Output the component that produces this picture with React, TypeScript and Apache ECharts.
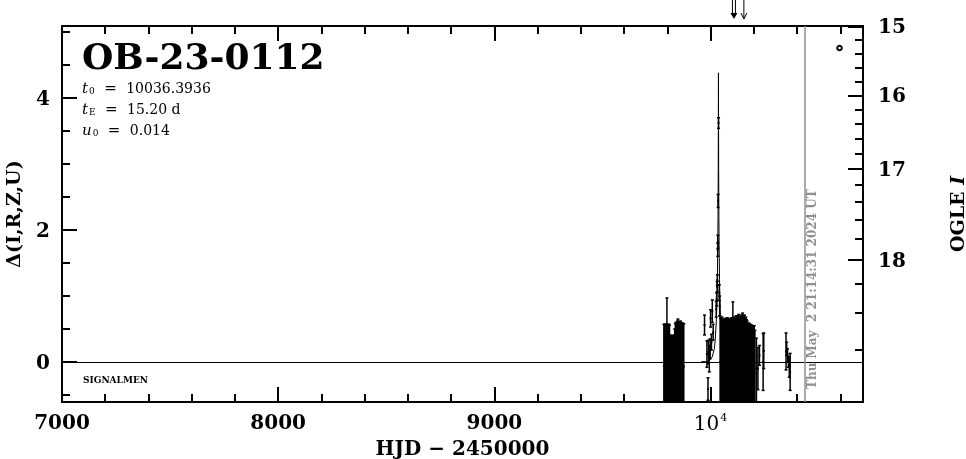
import React, { useEffect, useRef } from 'react';
import * as echarts from 'echarts';

// ---- axis ranges ----
const X_MIN = 7000;
const X_MAX = 10705;
const Y_MIN = -0.606;
const Y_MAX = 5.09;

// ---- tick values ----
const xMajorTicks = [7000, 8000, 9000, 10000];
const xMinorTicks = [7200, 7400, 7600, 7800, 8200, 8400, 8600, 8800, 9200, 9400, 9600, 9800, 10200, 10400, 10600];
const yMajorTicks = [0, 2, 4];
const yMinorTicks = [-0.5, 0.5, 1, 1.5, 2.5, 3, 3.5, 4.5, 5];
const magMajorTicks = [15, 16, 17, 18];
const magMinorTicks = [15.2, 15.4, 15.6, 15.8, 16.2, 16.4, 16.6, 16.8, 17.2, 17.4, 17.6, 17.8, 18.2, 18.4, 18.6];

// baseline magnitude and source flux fraction linking Δ and OGLE I
const I_BASE = 18.65;
const F_SOURCE = 0.26;
const magToDelta = (m: number) =>
  2.5 * Math.log10((Math.pow(10, -0.4 * (m - I_BASE)) - 1 + F_SOURCE) / F_SOURCE);
const deltaToMag = (d: number) =>
  I_BASE - 2.5 * Math.log10(F_SOURCE * Math.pow(10, 0.4 * d) + 1 - F_SOURCE);

// ---- observations: [HJD-2450000, Δ, error] ----
const season2022: [number, number, number][] = [
  [9784, -0.06, 0.63], [9787, -0.08, 0.65], [9790, -0.05, 0.62], [9793, -0.07, 0.64],
  [9796, -0.06, 0.63], [9798, 0.12, 0.85], [9801, -0.07, 0.64], [9804, -0.05, 0.62],
  [9807, -0.06, 0.63], [9810, -0.08, 0.64], [9813, -0.14, 0.55], [9816, -0.16, 0.56],
  [9819, -0.15, 0.54], [9822, -0.17, 0.57], [9825, -0.14, 0.54], [9828, -0.16, 0.55],
  [9831, -0.15, 0.56], [9834, -0.1, 0.6], [9837, -0.06, 0.64], [9840, -0.05, 0.65],
  [9843, -0.06, 0.65], [9846, -0.04, 0.66], [9849, -0.03, 0.68], [9852, -0.05, 0.65],
  [9855, -0.06, 0.66], [9858, -0.05, 0.64], [9861, -0.04, 0.66], [9864, -0.06, 0.65],
  [9867, -0.05, 0.64], [9870, -0.07, 0.66], [9873, -0.06, 0.64], [9876, -0.07, 0.65],
];

const eventPoints: [number, number, number][] = [
  [9972, 0.56, 0.15], [9983, 0.12, 0.2], [9988, -0.41, 0.17], [9990, 0.15, 0.18],
  [9994, 0.05, 0.2], [9998, 0.2, 0.15], [10000, 0.66, 0.13], [10004, 0.3, 0.12],
  [10008, 0.77, 0.17], [10012, 0.45, 0.12], [10026, 0.8, 0.12], [10028, 0.95, 0.1],
  [10030.5, 1.14, 0.08], [10031.5, 1.24, 0.08], [10033, 1.7, 0.1], [10033.5, 1.82, 0.1],
  [10034.7, 2.44, 0.1], [10036.9, 3.62, 0.08], [10040, 1.05, 0.12], [10042, 0.85, 0.15],
];

const season2023: [number, number, number][] = [
  [10044, 0.0, 0.7], [10047, -0.02, 0.68], [10050, -0.04, 0.66], [10053, -0.01, 0.69],
  [10056, -0.03, 0.67], [10059, -0.05, 0.65], [10062, -0.03, 0.68], [10065, -0.04, 0.67],
  [10068, -0.02, 0.68], [10071, -0.05, 0.66], [10074, -0.03, 0.67], [10077, -0.02, 0.69],
  [10080, -0.04, 0.66], [10083, -0.03, 0.68], [10086, -0.04, 0.67], [10089, -0.02, 0.68],
  [10092, -0.05, 0.65], [10095, -0.03, 0.67], [10098, -0.02, 0.69], [10101, -0.02, 0.68],
  [10103, 0.105, 0.805], [10106, -0.03, 0.68], [10109, -0.01, 0.69], [10112, -0.04, 0.67],
  [10115, -0.02, 0.68], [10118, 0.0, 0.7], [10121, -0.03, 0.67], [10124, 0.0, 0.7],
  [10127, -0.02, 0.68], [10130, 0.01, 0.71], [10133, -0.01, 0.69], [10136, -0.03, 0.68],
  [10139, 0.0, 0.71], [10142, -0.01, 0.7], [10145, -0.02, 0.68], [10148, 0.02, 0.72],
  [10151, 0.0, 0.7], [10154, -0.02, 0.69], [10157, 0.0, 0.71], [10160, -0.02, 0.68],
  [10163, -0.01, 0.69], [10166, -0.03, 0.67], [10169, -0.04, 0.66], [10172, -0.06, 0.64],
  [10175, -0.08, 0.63], [10178, -0.06, 0.65], [10181, -0.09, 0.62], [10184, -0.07, 0.64],
  [10187, -0.09, 0.61], [10190, -0.07, 0.63], [10193, -0.1, 0.6], [10196, -0.08, 0.62],
  [10199, -0.1, 0.61], [10202, -0.08, 0.63], [10205, -0.11, 0.59],
  [10212, -0.17, 0.53], [10219, -0.1, 0.32], [10226, 0.1, 0.15], [10243, 0.0, 0.43],
  [10246, 0.17, 0.27],
];

const latePoints: [number, number, number][] = [
  [10349, 0.16, 0.28], [10352, 0.2, 0.1], [10356, 0.1, 0.1], [10360, 0.0, 0.08],
  [10364, -0.08, 0.15], [10368, -0.15, 0.28],
];

// ---- PSPL model curve, sampled (HJD, Δ) ----
const modelHjd = [9956.4, 9976.4, 9991.4, 10006.4, 10016.4, 10021.4, 10026.4, 10029.4, 10031.4,
  10033.4, 10034.4, 10035.4, 10035.9, 10036.4, 10036.9, 10037.4, 10038.4, 10039.4, 10041.4,
  10043.4, 10046.4, 10051.4, 10056.4, 10066.4, 10081.4, 10096.4, 10116.4];
const modelDelta = [0.003, 0.007, 0.019, 0.066, 0.184, 0.327, 0.611, 0.923, 1.249,
  1.774, 2.2, 2.93, 3.62, 4.38, 3.62, 2.93, 2.2, 1.774, 1.249,
  0.923, 0.611, 0.327, 0.184, 0.066, 0.019, 0.007, 0.003];

// alert arrows (HJD) and the date of the plot
const alertHjd = [10108, 10154];
const DATE_HJD = 10433.4;
const DATE_LABEL = 'Thu May  2 21:14:31 2024 UT';

const TITLE = 'OB-23-0112';
const T0 = '10036.3936';
const TE = '15.20 d';
const U0 = '0.014';

const SERIF = '"DejaVu Serif", serif';
const BLACK = '#000';
const GREY = '#8f8f8f';

const axisLine = { show: true, onZero: false, lineStyle: { color: BLACK, width: 2 } };
const labelStyle = { color: BLACK, fontFamily: SERIF, fontSize: 20, fontWeight: 'bold' as const };

function xAxisDef(position: 'top' | 'bottom', major: boolean, labels: boolean) {
  return {
    type: 'value', min: X_MIN, max: X_MAX, position,
    axisLine: major ? axisLine : { show: false, onZero: false },
    splitLine: { show: false },
    axisTick: { show: true, inside: true, length: major ? 15 : 8, customValues: major ? xMajorTicks : xMinorTicks, lineStyle: { color: BLACK, width: 2 } },
    axisLabel: labels
      ? {
          show: true, customValues: xMajorTicks, margin: 10, ...labelStyle,
          formatter: (v: number) => (v === 10000 ? '{n|10}{s|4}' : '{b|' + v + '}'),
          rich: {
            b: { ...labelStyle },
            n: { color: BLACK, fontFamily: SERIF, fontSize: 20, fontWeight: 'normal' },
            s: { color: BLACK, fontFamily: SERIF, fontSize: 11, fontWeight: 'normal', verticalAlign: 'top', padding: [0, 0, 10, 1] },
          },
        }
      : { show: false },
  } as any;
}

function yAxisDef(position: 'left' | 'right', major: boolean) {
  const isRight = position === 'right';
  const majorVals = isRight ? magMajorTicks.map(magToDelta) : yMajorTicks;
  const minorVals = isRight ? magMinorTicks.map(magToDelta) : yMinorTicks;
  return {
    type: 'value', min: Y_MIN, max: Y_MAX, position,
    axisLine: major ? axisLine : { show: false, onZero: false },
    splitLine: { show: false },
    axisTick: { show: true, inside: true, length: major ? 15 : 8, customValues: major ? majorVals : minorVals, lineStyle: { color: BLACK, width: 2 } },
    axisLabel: major
      ? {
          show: true, customValues: majorVals, margin: isRight ? 15 : 12, ...labelStyle,
          formatter: (v: number) => (isRight ? String(Math.round(deltaToMag(v))) : String(Math.round(v))),
        }
      : { show: false },
  } as any;
}

function errorBarItem(params: any, api: any) {
  const x = api.value(0);
  const y = api.value(1);
  const e = api.value(2);
  const top = api.coord([x, y + e]);
  const bot = api.coord([x, y - e]);
  const c = api.coord([x, y]);
  const st = { stroke: BLACK, lineWidth: 1.5 };
  return {
    type: 'group',
    children: [
      { type: 'line', shape: { x1: c[0], y1: top[1], x2: c[0], y2: bot[1] }, style: st },
      { type: 'line', shape: { x1: c[0] - 1.5, y1: top[1], x2: c[0] + 1.5, y2: top[1] }, style: st },
      { type: 'line', shape: { x1: c[0] - 1.5, y1: bot[1], x2: c[0] + 1.5, y2: bot[1] }, style: st },
      { type: 'rect', shape: { x: c[0] - 1, y: c[1] - 1, width: 2, height: 2 }, style: { fill: BLACK } },
    ],
  };
}

function arrowItem(params: any, api: any) {
  const p = api.coord([api.value(0), Y_MAX]);
  const x = p[0];
  const y0 = p[1] - 26;
  const y1 = p[1] - 7;
  if (api.value(1) === 0) {
    return {
      type: 'group',
      children: [
        { type: 'line', shape: { x1: x - 1.5, y1: y0, x2: x - 1.5, y2: y1 - 3 }, style: { stroke: BLACK, lineWidth: 1 } },
        { type: 'line', shape: { x1: x + 1.5, y1: y0, x2: x + 1.5, y2: y1 - 3 }, style: { stroke: BLACK, lineWidth: 1 } },
        { type: 'polygon', shape: { points: [[x - 3.5, y1 - 6], [x + 3.5, y1 - 6], [x, y1]] }, style: { fill: BLACK } },
      ],
    };
  }
  return {
    type: 'group',
    children: [
      { type: 'line', shape: { x1: x, y1: y0, x2: x, y2: y1 }, style: { stroke: BLACK, lineWidth: 1 } },
      { type: 'polyline', shape: { points: [[x - 3, y1 - 6], [x, y1], [x + 3, y1 - 6]] }, style: { stroke: BLACK, lineWidth: 1, fill: 'none' } },
    ],
  };
}

const paramRich = {
  i: { fontFamily: SERIF, fontSize: 15, fontStyle: 'italic', fill: BLACK },
  s: { fontFamily: SERIF, fontSize: 9, verticalAlign: 'bottom', padding: [6, 0, 0, 1], fill: BLACK },
  e: { fontFamily: SERIF, fontSize: 15, padding: [0, 5, 0, 5], fill: BLACK },
};

export default function App() {
  const ref = useRef<HTMLDivElement>(null);
  useEffect(() => {
    const chart = echarts.init(ref.current!, null, { renderer: 'svg' });
    const observations = [...season2022, ...eventPoints, ...season2023, ...latePoints];
    const option: any = {
      animation: false,
      grid: { left: 62, right: 103, top: 26, bottom: 57, containLabel: false, outerBoundsMode: 'none' },
      xAxis: [
        {
          ...xAxisDef('bottom', true, true),
          name: 'HJD − 2450000', nameLocation: 'middle', nameGap: 36,
          nameTextStyle: { ...labelStyle, fontSize: 20 },
        },
        xAxisDef('bottom', false, false),
        xAxisDef('top', true, false),
        xAxisDef('top', false, false),
      ],
      yAxis: [
        {
          ...yAxisDef('left', true),
          name: 'Δ(I,R,Z,U)', nameLocation: 'middle', nameRotate: 90, nameGap: 40,
          nameTextStyle: { ...labelStyle, fontSize: 19 },
        },
        yAxisDef('left', false),
        {
          ...yAxisDef('right', true),
          name: 'OGLE {i|I}', nameLocation: 'middle', nameRotate: 90, nameGap: 84,
          nameTextStyle: {
            ...labelStyle, fontSize: 19,
            rich: { i: { ...labelStyle, fontSize: 19, fontStyle: 'italic' } },
          },
        },
        yAxisDef('right', false),
      ],
      series: [
        {
          type: 'line',
          data: modelHjd.map((h, i) => [h, modelDelta[i]]),
          showSymbol: false,
          lineStyle: { color: BLACK, width: 1 },
          clip: true,
          silent: true,
          markLine: {
            silent: true, symbol: 'none', label: { show: false },
            data: [
              { yAxis: 0, lineStyle: { color: BLACK, width: 1, type: 'solid' } },
              { xAxis: DATE_HJD, lineStyle: { color: GREY, width: 1.5, type: 'solid' } },
            ],
          },
        },
        {
          type: 'custom',
          renderItem: errorBarItem,
          data: observations,
          encode: { x: 0, y: 1 },
          clip: true,
          silent: true,
        },
        {
          type: 'custom',
          renderItem: arrowItem,
          data: alertHjd.map((h, i) => [h, i]),
          encode: { x: 0 },
          clip: false,
          silent: true,
        },
      ],
    };
    chart.setOption(option);
    const px = chart.convertToPixel({ xAxisIndex: 0 }, DATE_HJD) as number;
    chart.setOption({
      graphic: [
        { type: 'text', x: 82, y: 56, style: { text: TITLE, font: 'bold 36px ' + SERIF, fill: BLACK, verticalAlign: 'middle' } },
        { type: 'text', x: 82, y: 88, style: { text: '{i|t}{s|0} {e|=} ' + T0, font: '14px ' + SERIF, fill: BLACK, verticalAlign: 'middle', rich: paramRich } },
        { type: 'text', x: 82, y: 109, style: { text: '{i|t}{s|E} {e|=} ' + TE, font: '14px ' + SERIF, fill: BLACK, verticalAlign: 'middle', rich: paramRich } },
        { type: 'text', x: 82, y: 130, style: { text: '{i|u}{s|0} {e|=} ' + U0, font: '14px ' + SERIF, fill: BLACK, verticalAlign: 'middle', rich: paramRich } },
        { type: 'text', x: 83, y: 380, style: { text: 'SIGNALMEN', font: 'bold 9px ' + SERIF, fill: BLACK, verticalAlign: 'middle' } },
        { type: 'circle', shape: { cx: 839.5, cy: 48, r: 2.3 }, style: { fill: 'none', stroke: BLACK, lineWidth: 2 } },
        {
          type: 'text', x: px + 8, y: 389, rotation: Math.PI / 2,
          style: { text: DATE_LABEL, font: 'bold 12px ' + SERIF, fill: GREY, align: 'left', verticalAlign: 'middle' },
        },
      ],
    });
    return () => chart.dispose();
  }, []);
  return <div ref={ref} style={{ position: 'fixed', left: 0, top: 0, width: 966, height: 459 }} />;
}
